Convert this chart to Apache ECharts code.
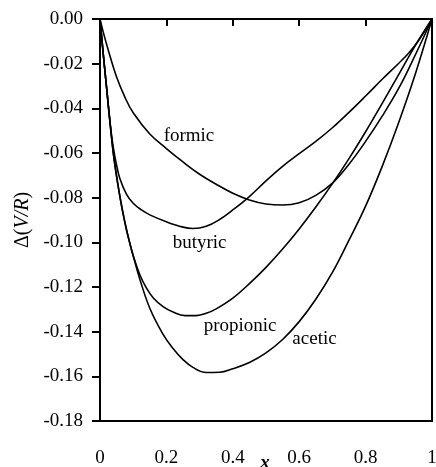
<!DOCTYPE html>
<html>
<head>
<meta charset="utf-8">
<script src="https://cdn.jsdelivr.net/npm/echarts@6/dist/echarts.min.js"></script>
<style>
html,body{margin:0;padding:0;background:#fff;}
#c{width:436px;height:467px;}
</style>
</head>
<body>
<div id="c"></div>
<script>
// ---- data (x, Δ(V/R)) ----
var formic = [[0,0],[0.01,-0.006],[0.025,-0.014],[0.05,-0.026],[0.075,-0.035],[0.1,-0.042],[0.15,-0.0515],[0.2,-0.058],[0.25,-0.064],[0.3,-0.0695],[0.35,-0.074],[0.4,-0.078],[0.45,-0.081],[0.5,-0.0828],[0.55,-0.0833],[0.6,-0.0823],[0.65,-0.079],[0.7,-0.0735],[0.75,-0.065],[0.8,-0.0548],[0.85,-0.0435],[0.9,-0.031],[0.95,-0.016],[1,0]];
var butyric = [[0,0],[0.01,-0.016],[0.02,-0.031],[0.03,-0.046],[0.04,-0.0575],[0.05,-0.0655],[0.06,-0.0715],[0.08,-0.0785],[0.1,-0.0825],[0.125,-0.0855],[0.15,-0.0877],[0.2,-0.0908],[0.25,-0.0932],[0.28,-0.0938],[0.32,-0.0928],[0.36,-0.0898],[0.4,-0.0855],[0.45,-0.0795],[0.5,-0.0725],[0.55,-0.066],[0.6,-0.0603],[0.65,-0.0548],[0.7,-0.0487],[0.75,-0.0418],[0.8,-0.0345],[0.85,-0.027],[0.9,-0.0198],[0.93,-0.0152],[0.96,-0.0095],[1,0]];
var propionic = [[0,0],[0.01,-0.016],[0.02,-0.031],[0.03,-0.046],[0.04,-0.06],[0.05,-0.0705],[0.06,-0.0795],[0.07,-0.0875],[0.08,-0.0945],[0.09,-0.1005],[0.1,-0.106],[0.12,-0.1145],[0.14,-0.1205],[0.16,-0.1248],[0.19,-0.1288],[0.22,-0.1312],[0.256,-0.1328],[0.29,-0.1328],[0.32,-0.1318],[0.35,-0.1298],[0.4,-0.125],[0.45,-0.1185],[0.5,-0.1112],[0.55,-0.103],[0.6,-0.094],[0.65,-0.0842],[0.7,-0.0737],[0.75,-0.0625],[0.8,-0.0505],[0.85,-0.0378],[0.9,-0.0248],[0.95,-0.0118],[1,0]];
var acetic = [[0,0],[0.01,-0.016],[0.02,-0.031],[0.03,-0.046],[0.04,-0.06],[0.05,-0.0705],[0.06,-0.0795],[0.07,-0.0875],[0.08,-0.0945],[0.09,-0.1005],[0.1,-0.106],[0.12,-0.1165],[0.15,-0.1295],[0.19,-0.1412],[0.22,-0.1475],[0.25,-0.1525],[0.28,-0.156],[0.32,-0.1583],[0.36,-0.1582],[0.4,-0.1566],[0.45,-0.1538],[0.5,-0.1495],[0.55,-0.1435],[0.6,-0.1355],[0.65,-0.1255],[0.7,-0.1135],[0.75,-0.099],[0.8,-0.0838],[0.85,-0.066],[0.9,-0.0462],[0.95,-0.0245],[1,0]];

var seriesNames = ['formic','butyric','propionic','acetic'];
// label anchor points in data coordinates
var labelX = [0.268, 0.30, 0.422, 0.646];
var labelY = [-0.0525, -0.1001, -0.1374, -0.1432];

var xTickLabels = ['0','0.2','0.4','0.6','0.8','1'];
var yTickLabels = ['-0.18','-0.16','-0.14','-0.12','-0.10','-0.08','-0.06','-0.04','-0.02','0.00'];
var xTitle = 'x';

var FONT = '"Liberation Serif","Times New Roman",serif';
var chart = echarts.init(document.getElementById('c'), null, {renderer:'canvas'});

function mkSeries(name, data){
  return {name:name, type:'line', data:data, smooth:0.4, symbol:'none',
    lineStyle:{color:'#000', width:1.6}, silent:true, animation:false};
}

chart.setOption({
  animation:false,
  backgroundColor:'#fff',
  grid:{left:100, right:4, top:19, bottom:46, containLabel:false, outerBoundsMode:'none',
    show:true, borderColor:'#000', borderWidth:2, backgroundColor:'transparent'},
  xAxis:{type:'value', min:0, max:1, interval:0.2,
    axisLine:{show:true, lineStyle:{color:'#000', width:2}},
    axisTick:{show:true, inside:false, length:7, lineStyle:{color:'#000', width:2}},
    axisLabel:{margin:28, fontFamily:FONT, fontSize:19, color:'#000',
      formatter:function(v, i){ return xTickLabels[i]; }},
    splitLine:{show:false}},
  yAxis:{type:'value', min:-0.18, max:0, interval:0.02,
    name:'{n|Δ(}{i|V/R}{n|)}', nameLocation:'middle', nameGap:62, nameRotate:90,
    nameTextStyle:{rich:{n:{fontFamily:FONT, fontSize:20, color:'#000'}, i:{fontFamily:FONT, fontSize:20, fontStyle:'italic', color:'#000'}}},
    axisLine:{show:true, lineStyle:{color:'#000', width:2}},
    axisTick:{show:true, inside:false, length:8, lineStyle:{color:'#000', width:2}},
    axisLabel:{margin:17, fontFamily:FONT, fontSize:19, color:'#000',
      formatter:function(v, i){ return yTickLabels[i]; }},
    splitLine:{show:false}},
  series:[mkSeries('formic',formic), mkSeries('butyric',butyric), mkSeries('propionic',propionic), mkSeries('acetic',acetic)]
});

var g = [];
for (var k=0;k<seriesNames.length;k++){
  var p = chart.convertToPixel({gridIndex:0}, [labelX[k], labelY[k]]);
  g.push({type:'text', x:p[0], y:p[1], style:{text:seriesNames[k], fontFamily:FONT, fontSize:19, fill:'#000', align:'center', verticalAlign:'middle'}});
}
// x axis title, centred under the axis and partly cut by the page edge as in the reference
var pb = chart.convertToPixel({gridIndex:0}, [0.5, -0.18]);
g.push({type:'text', x:pb[0] - 1, y:pb[1] + 33, style:{text:xTitle, fontFamily:FONT, fontSize:19, fontStyle:'italic', fontWeight:'bold', fill:'#000', align:'center', verticalAlign:'top'}});
chart.setOption({graphic:g});
</script>
</body>
</html>
